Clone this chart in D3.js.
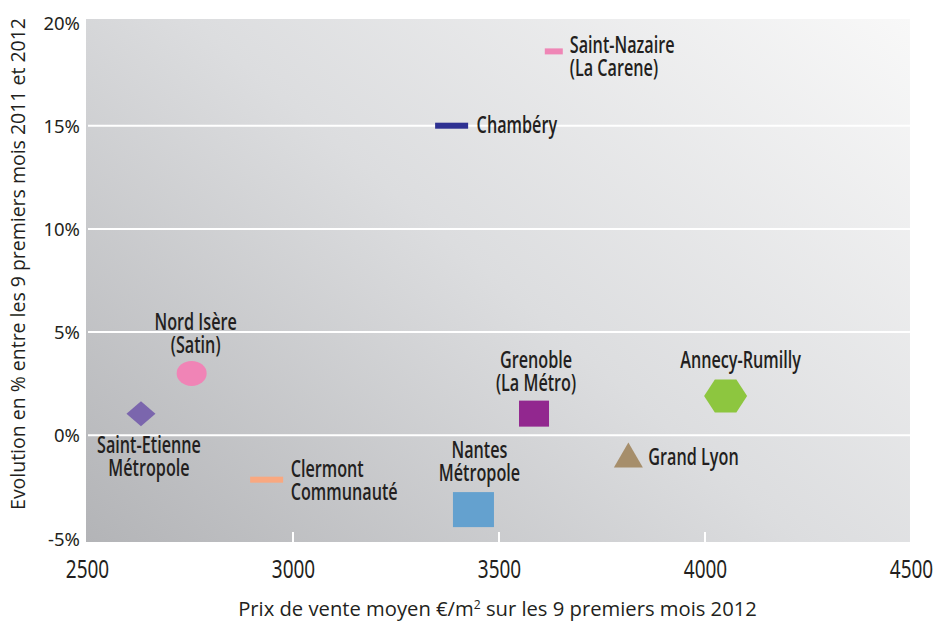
<!DOCTYPE html>
<html>
<head>
<meta charset="utf-8">
<script src="https://cdn.jsdelivr.net/npm/d3@7"></script>
<style>
  body { margin: 0; background: #ffffff; }
  .tick-label { font-family: "Noto Sans", "Open Sans", sans-serif; fill: #231f20; }
  .point-label { font-family: "Open Sans", "Noto Sans", sans-serif; font-size: 22.5px; font-weight: 600; fill: #231f20; }
  .axis-title { font-family: "Open Sans", "Noto Sans", sans-serif; fill: #231f20; }
</style>
</head>
<body>
<div id="chart"></div>
<script>
// Chart data
var cities = ["Saint-Nazaire (La Carene)", "Chambéry", "Nord Isère (Satin)", "Saint-Etienne Métropole",
  "Clermont Communauté", "Grenoble (La Métro)", "Annecy-Rumilly", "Grand Lyon", "Nantes Métropole"];
var prices = [3633, 3385, 2754, 2631, 2936, 3585, 4050, 3814, 3438];
var evolutions = [18.6, 15.0, 3.0, 1.05, -2.15, 1.05, 1.9, -0.95, -3.6];
var xTicks = [2500, 3000, 3500, 4000, 4500];
var yTicks = [-5, 0, 5, 10, 15, 20];

// Label text split in lines
var labelLines = [
  ["Saint-Nazaire", "(La Carene)"], ["Chambéry"], ["Nord Isère", "(Satin)"], ["Saint-Etienne", "Métropole"],
  ["Clermont", "Communauté"], ["Grenoble", "(La Métro)"], ["Annecy-Rumilly"], ["Grand Lyon"], ["Nantes", "Métropole"]
];

// Marker look for each city
var markers = [
  { shape: "rect", w: 18, h: 6, color: "#ef86b6" },
  { shape: "rect", w: 33, h: 6, color: "#2e3192" },
  { shape: "ellipse", w: 30, h: 25, color: "#f084b6" },
  { shape: "diamond", w: 29, h: 25, color: "#7b66ad" },
  { shape: "rect", w: 33, h: 6, color: "#f9a880" },
  { shape: "rect", w: 30, h: 26, color: "#92278f" },
  { shape: "hexagon", w: 43, h: 33, color: "#8dc63f" },
  { shape: "triangle", w: 29, h: 25, color: "#a68e6b" },
  { shape: "rect", w: 41, h: 35, color: "#64a1cf" }
];

// Label placement relative to marker centre
var labelPos = [
  { anchor: "start", dx: 16, dy: 2 },
  { anchor: "start", dx: 25, dy: 7 },
  { anchor: "middle", dx: 4, dy: -43 },
  { anchor: "middle", dx: 8, dy: 39 },
  { anchor: "start", dx: 24, dy: -3 },
  { anchor: "middle", dx: 2, dy: -46 },
  { anchor: "middle", dx: 15, dy: -28 },
  { anchor: "start", dx: 20, dy: 10 },
  { anchor: "middle", dx: 6, dy: -52 }
];

// condensed look (no condensed font installed)
var narrow = 0.72;

var svgWidth = 936;
var svgHeight = 621;

var plot = { left: 86, right: 910, top: 19, bottom: 542 };

var svg = d3.select("#chart")
  .append("svg")
  .attr("width", svgWidth)
  .attr("height", svgHeight);

// Scales
var xScale = d3.scaleLinear().domain([2500, 4500]).range([87, 911]);
var yScale = d3.scaleLinear().domain([-5, 20]).range([538.5, 22.5]);

// Background gradient
var defs = svg.append("defs");
var grad = defs.append("linearGradient")
  .attr("id", "bg")
  .attr("gradientUnits", "userSpaceOnUse")
  .attr("x1", plot.left).attr("y1", plot.bottom)
  .attr("x2", 692).attr("y2", -167);
grad.append("stop").attr("offset", "0%").attr("stop-color", "#b3b4b7");
grad.append("stop").attr("offset", "50%").attr("stop-color", "#dcdddf");
grad.append("stop").attr("offset", "100%").attr("stop-color", "#f8f8f8");

svg.append("rect")
  .attr("x", plot.left)
  .attr("y", plot.top)
  .attr("width", plot.right - plot.left)
  .attr("height", plot.bottom - plot.top)
  .attr("fill", "url(#bg)");

// Horizontal gridlines
svg.append("g")
  .selectAll("line")
  .data(yTicks.filter(d => d > -5 && d < 20))
  .enter()
  .append("line")
  .attr("x1", plot.left + 2)
  .attr("x2", plot.right)
  .attr("y1", d => yScale(d))
  .attr("y2", d => yScale(d))
  .attr("stroke", "#ffffff")
  .attr("stroke-width", 2);

// Small white x ticks inside the plot
svg.append("g")
  .selectAll("line")
  .data(xTicks.filter(d => d > 2500 && d < 4500))
  .enter()
  .append("line")
  .attr("x1", d => xScale(d))
  .attr("x2", d => xScale(d))
  .attr("y1", plot.bottom - 10)
  .attr("y2", plot.bottom)
  .attr("stroke", "#ffffff")
  .attr("stroke-width", 2);

// X axis labels
var xAxis = svg.append("g")
  .attr("transform", `translate(0, 578)`)
  .call(d3.axisBottom(xScale).tickValues(xTicks).tickSize(0).tickPadding(0).tickFormat(d => d));
xAxis.select(".domain").remove();
xAxis.selectAll("text")
  .attr("class", "tick-label")
  .attr("y", 0)
  .attr("dy", 0)
  .attr("font-size", 25)
  .attr("font-family", null)
  .attr("fill", null)
  .attr("transform", "scale(0.76,1)");

// Y axis labels
var yAxis = svg.append("g")
  .attr("transform", `translate(80, 0)`)
  .call(d3.axisLeft(yScale).tickValues(yTicks).tickSize(0).tickPadding(0).tickFormat(d => d + "%"));
yAxis.select(".domain").remove();
yAxis.selectAll("text")
  .attr("class", "tick-label")
  .attr("dy", "0.36em")
  .attr("font-size", 18.5)
  .attr("font-family", null)
  .attr("fill", null);

// Axis titles, scaled to the reference width
function fitTitle(sel, target) {
  var len = sel.node().getComputedTextLength();
  var size = parseFloat(sel.attr("font-size"));
  sel.attr("font-size", size * target / len);
}

var xTitle = svg.append("text")
  .attr("class", "axis-title")
  .attr("x", 497.5)
  .attr("y", 616)
  .attr("text-anchor", "middle")
  .attr("font-size", 18)
  .html("Prix de vente moyen €/m<tspan dy='-7' font-size='0.6em'>2</tspan><tspan dy='7'> sur les 9 premiers mois 2012</tspan>");
fitTitle(xTitle, 519);

var yTitle = svg.append("text")
  .attr("class", "axis-title")
  .attr("transform", "translate(25, 264) rotate(-90)")
  .attr("text-anchor", "middle")
  .attr("font-size", 18)
  .text("Evolution en % entre les 9 premiers mois 2011 et 2012");
fitTitle(yTitle, 492);

// Markers
function markerPath(m) {
  var w = m.w / 2, h = m.h / 2;
  if (m.shape === "diamond") {
    return `M${-w},0L0,${-h}L${w},0L0,${h}Z`;
  }
  if (m.shape === "hexagon") {
    var q = w * 0.5;
    return `M${-w},0L${-q},${-h}L${q},${-h}L${w},0L${q},${h}L${-q},${h}Z`;
  }
  if (m.shape === "triangle") {
    return `M${-w},${h}L0,${-h}L${w},${h}Z`;
  }
  return "";
}

var points = svg.append("g")
  .selectAll("g")
  .data(cities)
  .enter()
  .append("g")
  .attr("transform", (d, i) => `translate(${xScale(prices[i])}, ${yScale(evolutions[i])})`);

points.each(function(d, i) {
  var g = d3.select(this);
  var m = markers[i];
  if (m.shape === "rect") {
    g.append("rect")
      .attr("x", -m.w / 2)
      .attr("y", -m.h / 2)
      .attr("width", m.w)
      .attr("height", m.h)
      .attr("fill", m.color);
  } else if (m.shape === "ellipse") {
    g.append("ellipse")
      .attr("rx", m.w / 2)
      .attr("ry", m.h / 2)
      .attr("fill", m.color);
  } else {
    g.append("path")
      .attr("d", markerPath(m))
      .attr("fill", m.color);
  }

  // Label
  var p = labelPos[i];
  var label = g.append("text")
    .attr("class", "point-label")
    .attr("text-anchor", p.anchor)
    .attr("transform", `translate(${p.dx}, 0) scale(${narrow}, 1)`);
  labelLines[i].forEach(function(line, j) {
    label.append("tspan")
      .attr("x", 0)
      .attr("y", p.dy + j * 23)
      .text(line);
  });
});
</script>
</body>
</html>
